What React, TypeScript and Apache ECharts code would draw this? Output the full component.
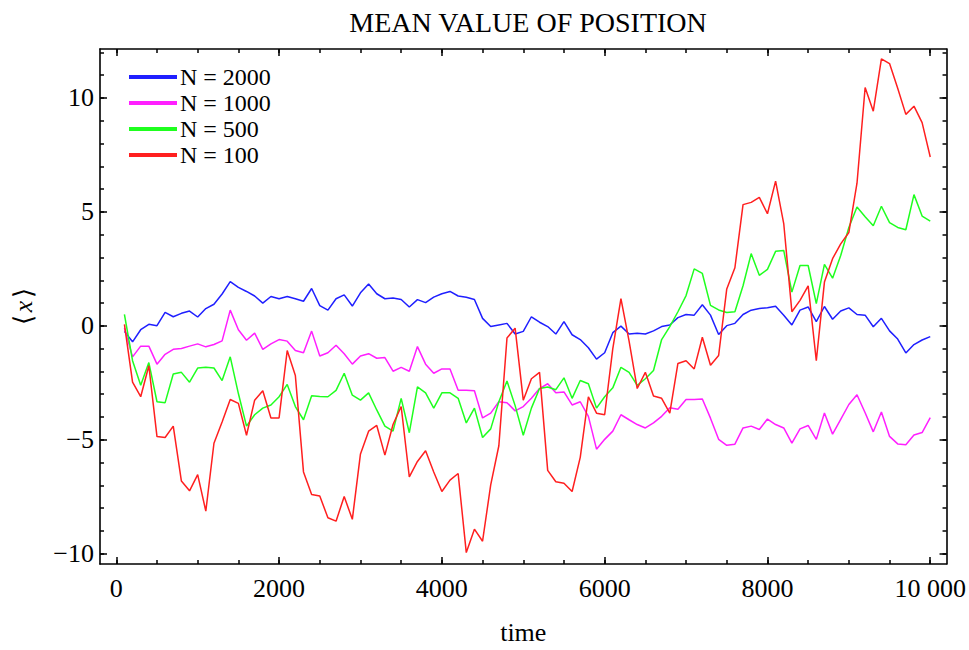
import React, { useEffect, useRef } from "react";
import * as echarts from "echarts";

const TITLE = "MEAN VALUE OF POSITION";
const X_NAME = "time";
const SERIES_NAMES = ["N = 2000", "N = 1000", "N = 500", "N = 100"];
const SERIES_COLORS = ["#1f1fff", "#ff1fff", "#1fff1f", "#ff1f1f"];
const TIME_STEP = 100;

const N2000 = [
  -0.24, -0.7, -0.17, 0.07, 0.01, 0.59, 0.4, 0.55, 0.65, 0.39,
  0.76, 0.95, 1.4, 1.94, 1.69, 1.51, 1.31, 1.0, 1.29, 1.19,
  1.29, 1.19, 1.08, 1.64, 0.89, 0.69, 1.19, 1.36, 0.87, 1.45,
  1.84, 1.41, 1.19, 1.22, 1.16, 0.83, 1.15, 1.02, 1.26, 1.41,
  1.51, 1.31, 1.26, 1.16, 0.33, -0.03, 0.04, 0.11, -0.36, -0.24,
  0.4, 0.16, -0.03, -0.36, 0.19, -0.39, -0.6, -0.96, -1.46, -1.18,
  -0.3, -0.01, -0.36, -0.32, -0.36, -0.22, -0.03, 0.04, 0.36, 0.5,
  0.47, 0.93, 0.47, -0.38, 0.01, 0.11, 0.5, 0.69, 0.76, 0.8,
  0.86, 0.47, 0.04, 0.69, 0.83, 0.19, 0.85, 0.29, 0.65, 0.79,
  0.5, 0.47, -0.04, 0.33, -0.22, -0.58, -1.19, -0.82, -0.62, -0.47,
];

const N1000 = [
  -0.1, -1.36, -0.89, -0.89, -1.68, -1.25, -1.03, -0.99, -0.89, -0.79,
  -0.92, -0.82, -0.66, 0.69, -0.17, -0.63, -0.32, -1.03, -0.79, -0.6,
  -0.67, -1.08, -1.18, -0.23, -1.32, -1.18, -0.85, -1.22, -1.68, -1.32,
  -1.22, -1.42, -1.39, -1.99, -1.82, -1.99, -0.91, -1.68, -2.08, -1.89,
  -1.89, -2.83, -2.83, -2.85, -4.04, -3.83, -3.33, -3.37, -3.73, -3.54,
  -3.18, -2.75, -2.54, -2.94, -2.9, -3.47, -3.33, -3.97, -5.41, -4.98,
  -4.62, -3.9, -4.12, -4.33, -4.48, -4.26, -3.97, -3.59, -3.66, -3.23,
  -3.23, -3.21, -4.05, -4.98, -5.24, -5.19, -4.48, -4.4, -4.55, -4.09,
  -4.33, -4.48, -5.15, -4.52, -4.37, -4.98, -3.82, -4.75, -4.1, -3.45,
  -3.02, -3.81, -4.65, -3.78, -4.85, -5.18, -5.22, -4.79, -4.68, -4.03,
];

const N500 = [
  0.5, -1.53, -2.61, -1.61, -3.33, -3.37, -2.11, -2.04, -2.47, -1.85,
  -1.82, -1.85, -2.4, -1.36, -2.97, -4.4, -3.9, -3.61, -3.47, -3.11,
  -2.57, -3.54, -4.12, -3.07, -3.1, -3.11, -2.83, -2.08, -3.04, -3.26,
  -2.94, -3.69, -4.4, -4.62, -3.18, -4.69, -2.68, -2.94, -3.61, -2.94,
  -2.94, -3.18, -4.26, -3.61, -4.9, -4.52, -3.33, -2.42, -3.5, -4.8,
  -3.61, -2.75, -2.68, -2.8, -2.28, -3.18, -2.4, -2.54, -3.61, -3.11,
  -2.72, -1.82, -2.04, -2.61, -2.32, -1.96, -0.6, -0.03, 0.62, 1.33,
  2.5, 2.3, 0.9, 0.7, 0.59, 0.62, 1.76, 3.17, 2.22, 2.48,
  3.27, 3.31, 1.48, 2.65, 2.65, 0.98, 2.7, 2.09, 3.09, 4.32,
  5.22, 4.79, 4.39, 5.25, 4.53, 4.32, 4.22, 5.76, 4.82, 4.6,
];

const N100 = [
  0.07, -2.47, -3.11, -1.75, -4.86, -4.9, -4.4, -6.81, -7.24, -6.53,
  -8.13, -5.15, -4.22, -3.23, -3.4, -4.8, -3.26, -2.85, -4.04, -4.04,
  -1.08, -2.18, -6.41, -7.4, -7.47, -8.42, -8.57, -7.49, -8.49, -5.62,
  -4.62, -4.37, -5.67, -4.33, -3.54, -6.63, -5.95, -5.48, -6.41, -7.27,
  -6.77, -6.48, -9.95, -8.92, -9.45, -6.98, -5.26, -0.53, -0.1, -3.26,
  -2.32, -2.04, -6.34, -6.84, -6.91, -7.27, -5.77, -3.11, -3.83, -3.9,
  -1.0, 1.2, -0.67, -2.75, -2.04, -3.08, -3.18, -3.83, -1.65, -1.53,
  -1.89, -0.5, -1.73, -1.3, 1.62, 2.55, 5.32, 5.42, 5.64, 4.92,
  6.35, 4.49, 0.62, 1.12, 1.76, -1.53, 1.92, 2.95, 3.6, 4.1,
  6.26, 10.46, 9.42, 11.72, 11.51, 10.43, 9.28, 9.64, 8.92, 7.41,
];

const SERIES_VALUES = [N2000, N1000, N500, N100];

const X_MAJOR = [0, 2000, 4000, 6000, 8000, 10000];
const X_MINOR = [
  0, 500, 1000, 1500, 2000, 2500, 3000, 3500, 4000, 4500, 5000,
  5500, 6000, 6500, 7000, 7500, 8000, 8500, 9000, 9500, 10000,
];
const Y_MAJOR = [-10, -5, 0, 5, 10];
const Y_MINOR = [
  -10, -9, -8, -7, -6, -5, -4, -3, -2, -1, 0, 1, 2, 3, 4, 5, 6, 7, 8, 9, 10, 11, 12,
];

const X_MIN = -200;
const X_MAX = 10200;
const Y_MIN = -10.45;
const Y_MAX = 12.15;

const FONT = "'Liberation Serif', 'Times New Roman', serif";
const FS = 26;

function xLabel(v: number): string {
  if (v >= 10000) return "10 000";
  return String(v);
}
function yLabel(v: number): string {
  return v < 0 ? "\u2212" + Math.abs(v) : String(v);
}

export default function App() {
  const ref = useRef<HTMLDivElement>(null);

  useEffect(() => {
    if (!ref.current) return;
    const chart = echarts.init(ref.current, undefined, { renderer: "svg" });

    const axisLine = { show: true, onZero: false, lineStyle: { color: "#000", width: 1.6 } };
    const noLine = { show: false, onZero: false };
    const tickStyle = { color: "#000", width: 1.5 };
    const xAxisBase = {
      type: "value",
      min: X_MIN,
      max: X_MAX,
      splitLine: { show: false },
      axisLabel: { show: false },
    };
    const yAxisBase = {
      type: "value",
      min: Y_MIN,
      max: Y_MAX,
      splitLine: { show: false },
      axisLabel: { show: false },
    };

    const option: any = {
      animation: false,
      backgroundColor: "#fff",
      title: {
        text: TITLE,
        left: 523,
        top: 3,
        textAlign: "center",
        textStyle: { fontFamily: FONT, fontSize: 28, fontWeight: "normal", color: "#000" },
      },
      legend: {
        orient: "vertical",
        left: 129,
        top: 65,
        padding: 0,
        itemGap: 2,
        itemWidth: 48,
        itemHeight: 4,
        icon: "rect",
        data: SERIES_NAMES,
        textStyle: { fontFamily: FONT, fontSize: 24, color: "#000", lineHeight: 20, padding: [0, 0, 0, -2] },
      },
      grid: { left: 100, right: 22, top: 49, bottom: 78, show: false },
      xAxis: [
        {
          ...xAxisBase,
          position: "bottom",
          axisLine,
          axisTick: { show: true, inside: true, length: 7, customValues: X_MAJOR, lineStyle: tickStyle },
          axisLabel: {
            show: true,
            customValues: X_MAJOR,
            formatter: xLabel,
            margin: 11,
            fontFamily: FONT,
            fontSize: FS,
            color: "#000",
          },
          name: X_NAME,
          nameLocation: "middle",
          nameGap: 55,
          nameTextStyle: { fontFamily: FONT, fontSize: FS, color: "#000" },
        },
        {
          ...xAxisBase,
          position: "bottom",
          axisLine: noLine,
          axisTick: { show: true, inside: true, length: 4, customValues: X_MINOR, lineStyle: tickStyle },
        },
        {
          ...xAxisBase,
          position: "top",
          axisLine,
          axisTick: { show: true, inside: true, length: 7, customValues: X_MAJOR, lineStyle: tickStyle },
        },
        {
          ...xAxisBase,
          position: "top",
          axisLine: noLine,
          axisTick: { show: true, inside: true, length: 4, customValues: X_MINOR, lineStyle: tickStyle },
        },
      ],
      yAxis: [
        {
          ...yAxisBase,
          position: "left",
          axisLine,
          axisTick: { show: true, inside: true, length: 7, customValues: Y_MAJOR, lineStyle: tickStyle },
          axisLabel: {
            show: true,
            customValues: Y_MAJOR,
            formatter: yLabel,
            margin: 6,
            fontFamily: FONT,
            fontSize: FS,
            color: "#000",
          },
          name: "{a|\u27E8}{i|x}{a|\u27E9}",
          nameLocation: "middle",
          nameGap: 64,
          nameRotate: 90,
          nameTextStyle: {
            color: "#000",
            rich: {
              a: { fontFamily: FONT, fontSize: FS, color: "#000" },
              i: { fontFamily: FONT, fontSize: FS, fontStyle: "italic", color: "#000", padding: [0, 3, 0, 3] },
            },
          },
        },
        {
          ...yAxisBase,
          position: "left",
          axisLine: noLine,
          axisTick: { show: true, inside: true, length: 4, customValues: Y_MINOR, lineStyle: tickStyle },
        },
        {
          ...yAxisBase,
          position: "right",
          axisLine,
          axisTick: { show: true, inside: true, length: 7, customValues: Y_MAJOR, lineStyle: tickStyle },
        },
        {
          ...yAxisBase,
          position: "right",
          axisLine: noLine,
          axisTick: { show: true, inside: true, length: 4, customValues: Y_MINOR, lineStyle: tickStyle },
        },
      ],
      series: SERIES_NAMES.map((name, si) => ({
        name,
        type: "line",
        xAxisIndex: 0,
        yAxisIndex: 0,
        showSymbol: false,
        symbol: "none",
        color: SERIES_COLORS[si],
        lineStyle: { color: SERIES_COLORS[si], width: 1.5 },
        data: SERIES_VALUES[si].map((v, i) => [(i + 1) * TIME_STEP, v]),
      })),
    };

    chart.setOption(option);
    return () => chart.dispose();
  }, []);

  return (
    <div
      ref={ref}
      style={{ position: "fixed", left: 0, top: 0, width: 969, height: 650, background: "#fff" }}
    />
  );
}
